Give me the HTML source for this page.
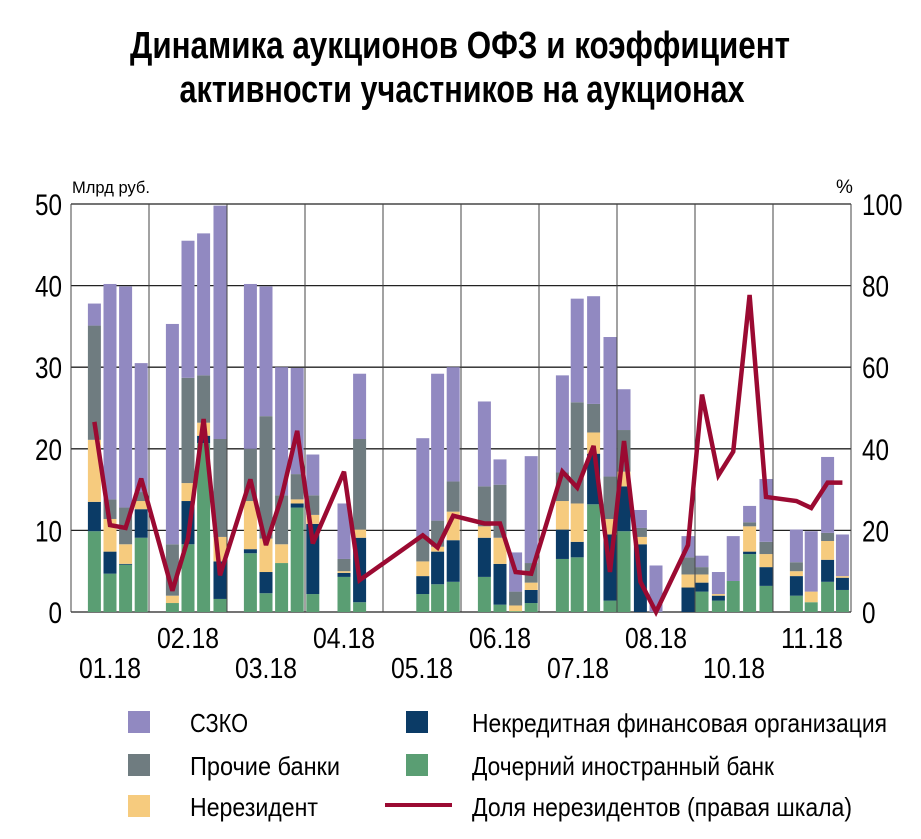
<!DOCTYPE html>
<html><head><meta charset="utf-8"><style>
body{margin:0;background:#fff}
svg{display:block;font-family:"Liberation Sans Narrow","Liberation Sans",sans-serif}
</style></head><body>
<svg id="c" width="921" height="839" viewBox="0 0 921 839">
<text x="460" y="58" text-anchor="middle" font-size="38" font-weight="bold" textLength="660" lengthAdjust="spacingAndGlyphs">Динамика аукционов ОФЗ и коэффициент</text>
<text x="462" y="102" text-anchor="middle" font-size="38" font-weight="bold" textLength="565" lengthAdjust="spacingAndGlyphs">активности участников на аукционах</text>
<text x="72" y="193" font-size="17" textLength="78" lengthAdjust="spacingAndGlyphs">Млрд руб.</text>
<text x="836" y="193" font-size="19">%</text>
<g id="grid"></g><g id="bars"></g><g id="line"></g><g id="axes"></g>
<g>
<rect x="128" y="711" width="22" height="22" fill="#9189c1"/>
<text x="190" y="732" font-size="26" textLength="58" lengthAdjust="spacingAndGlyphs">СЗКО</text>
<rect x="128" y="754" width="22" height="22" fill="#6f7c80"/>
<text x="190" y="775" font-size="26" textLength="150" lengthAdjust="spacingAndGlyphs">Прочие банки</text>
<rect x="128" y="795" width="22" height="22" fill="#f6cb7e"/>
<text x="190" y="816" font-size="26" textLength="128" lengthAdjust="spacingAndGlyphs">Нерезидент</text>
<rect x="406" y="711" width="22" height="22" fill="#0b3b66"/>
<text x="472" y="732" font-size="26" textLength="415" lengthAdjust="spacingAndGlyphs">Некредитная финансовая организация</text>
<rect x="406" y="754" width="22" height="22" fill="#5a9e73"/>
<text x="472" y="775" font-size="26" textLength="302" lengthAdjust="spacingAndGlyphs">Дочерний иностранный банк</text>
<line x1="385" y1="805" x2="452" y2="805" stroke="#9b0a32" stroke-width="4"/>
<text x="472" y="816" font-size="26" textLength="380" lengthAdjust="spacingAndGlyphs">Доля нерезидентов (правая шкала)</text>
</g>
</svg>
<script>
// auction time position in months since start of 01.18
const t=[0.30,0.50,0.70,0.90,1.30,1.50,1.70,1.91,2.30,2.50,2.70,2.90,3.10,3.50,3.70,4.51,4.70,4.90,5.30,5.50,5.70,5.90,6.30,6.49,6.70,6.91,7.09,7.30,7.50,7.91,8.09,8.30,8.49,8.70,8.91,9.30,9.49,9.70,9.89];
const foreignSub=[9.9,4.7,5.8,9.1,1.1,8.3,20.7,1.6,7.2,2.3,6.0,12.8,2.2,4.3,1.2,2.2,3.4,3.7,4.3,0.9,0.1,1.1,6.5,6.7,13.2,1.4,9.9,0,0,0,2.5,1.4,3.8,7.1,3.2,2.0,1.2,3.7,2.7];
const nonBank=[3.6,2.7,0.1,3.5,0,5.3,0.9,4.6,0.5,2.6,0,0.5,8.6,0.5,7.9,2.2,4.0,5.1,4.8,5.0,0,1.6,3.6,1.9,6.2,8.1,5.5,8.3,0,3.0,1.1,0.6,0,0.3,2.3,2.4,0,2.7,1.5];
const nonResident=[7.6,4.0,2.4,1.0,0.9,2.2,1.6,3.0,5.9,4.1,2.3,0.5,1.1,0.2,1.0,1.8,0.6,3.5,1.4,3.2,0.7,0.9,3.5,4.7,2.6,1.9,1.8,0.9,0,1.6,1.0,0.2,0,3.1,1.6,0.6,1.3,2.3,0.2];
const otherBanks=[14.0,2.4,4.5,1.1,6.3,12.9,5.8,12.0,6.4,15.0,6.0,3.1,2.4,1.5,11.1,3.1,3.2,3.7,4.9,6.5,1.7,2.4,3.5,12.4,3.5,5.2,5.1,1.1,0,2.1,0.9,0,0,0.5,1.5,1.1,0,1.0,0];
const szko=[2.7,26.4,27.1,15.8,27.0,16.8,17.4,28.6,20.2,15.9,15.7,13.0,5.0,6.8,8.0,12.0,18.0,14.0,10.4,3.1,4.8,13.1,11.9,12.7,13.2,17.1,5.0,2.2,5.7,2.6,1.4,2.7,5.5,2.0,7.7,4.0,7.4,9.3,5.1];
const share=[46.6,21.3,20.6,32.7,5.2,18.0,47.3,9.0,32.5,16.4,28.2,44.4,16.8,34.4,7.8,18.8,15.8,23.6,21.7,21.7,9.8,9.4,34.4,30.5,40.7,9.8,41.9,7.4,0,16.4,53.3,33.5,39.3,77.7,28.2,27.2,25.5,31.7,31.7];
const leftTicks=[0,10,20,30,40,50];
const rightTicks=[0,20,40,60,80,100];
const monthLabels=["01.18","02.18","03.18","04.18","05.18","06.18","07.18","08.18","10.18","11.18"];

const NS="http://www.w3.org/2000/svg";
const X0=71,X1=851,Y0=612,Y1=204,MW=78;
const x=v=>X0+v*MW;
const yL=v=>Y0-(v/50)*(Y0-Y1);
const yR=v=>Y0-(v/100)*(Y0-Y1);
function mk(tag,attrs,parent){const e=document.createElementNS(NS,tag);for(const k in attrs)e.setAttribute(k,attrs[k]);parent.appendChild(e);return e;}
const grid=document.getElementById('grid'),bars=document.getElementById('bars'),lineG=document.getElementById('line'),axes=document.getElementById('axes');
leftTicks.forEach((v,i)=>{
  const l=mk('line',{x1:X0,x2:X1,y1:yL(v),y2:yL(v),stroke:'#222','stroke-width':1.3},grid);
  
  
  const s=String(v);
  const tx=mk('text',{x:62,y:yL(v)+11,'text-anchor':'end','font-size':30,textLength:s.length*13.5,lengthAdjust:'spacingAndGlyphs'},axes);
  tx.textContent=s;
  
  
});
rightTicks.forEach(v=>{
  const s=String(v);
  const tx=mk('text',{x:862,y:yR(v)+11,'font-size':30,textLength:s.length*13.5,lengthAdjust:'spacingAndGlyphs'},axes);
  tx.textContent=s;
  
  
});
for(let m=0;m<=10;m++){
  const l=mk('line',{x1:x(m),x2:x(m),y1:Y1,y2:Y0,stroke:'#444','stroke-width':1},grid);
  
  
}
monthLabels.forEach((s,i)=>{
  const tx=mk('text',{x:x(i+0.5),y:i%2?648:678,'text-anchor':'middle','font-size':29,textLength:62,lengthAdjust:'spacingAndGlyphs'},axes);
  tx.textContent=s;
  
  
});
const series=[[foreignSub,'#5a9e73','foreign-subsidiary'],[nonBank,'#0b3b66','nonbank'],[nonResident,'#f6cb7e','nonresident'],[otherBanks,'#6f7c80','other-banks'],[szko,'#9189c1','szko']];
t.forEach((tv,i)=>{
  let cum=0;
  series.forEach(([arr,col,nm])=>{
    const v=arr[i];
    if(v>0){
      const r=mk('rect',{x:x(tv)-6.5,width:13,y:yL(cum+v),height:yL(cum)-yL(cum+v),fill:col},bars);
      
      
    }
    cum+=v;
  });
});
const p=mk('polyline',{points:t.map((tv,i)=>x(tv)+','+yR(share[i])).join(' '),fill:'none',stroke:'#9b0a32','stroke-width':4.5,'stroke-linejoin':'miter','stroke-miterlimit':3},lineG);


</script>
</body></html>
